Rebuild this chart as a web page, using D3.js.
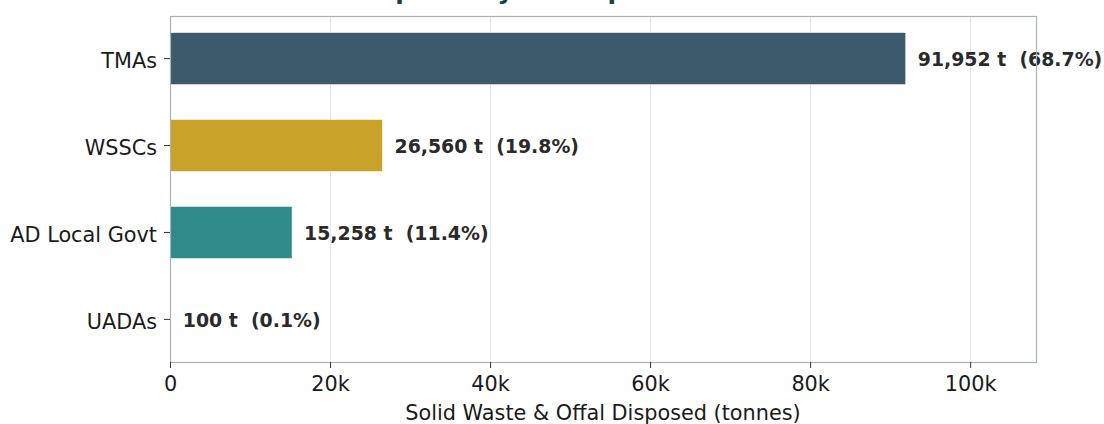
<!DOCTYPE html>
<html>
<head>
<meta charset="utf-8">
<script src="https://cdn.jsdelivr.net/npm/d3@7"></script>
<style>
  html, body { margin: 0; padding: 0; background: #ffffff; }
  svg { display: block; font-family: "DejaVu Sans", sans-serif; }
</style>
</head>
<body>
<svg id="chart" width="1104" height="424"></svg>
<script>
// Solid waste disposal by operator type
const categories = ["TMAs", "WSSCs", "AD Local Govt", "UADAs"];
const tonnes = [91952, 26560, 15258, 100];
const barColors = ["#3d5a6c", "#c9a22a", "#2e8b89", "#8c6d9e"];
const xTickValues = [0, 20000, 40000, 60000, 80000, 100000];
const xTickLabels = ["0", "20k", "40k", "60k", "80k", "100k"];
const titleText = "Solid Waste Disposal by Site Operator";
const xAxisTitle = "Solid Waste & Offal Disposed (tonnes)";

const svg = d3.select("#chart");
const W = 1104, H = 424;
const margin = { top: 16, right: 68, bottom: 62, left: 170 };
const innerW = W - margin.left - margin.right;
const innerH = H - margin.top - margin.bottom;
const tickFont = 20.8;

const total = d3.sum(tonnes);
const rows = categories.map((c, i) => ({
  cat: c,
  value: tonnes[i],
  share: tonnes[i] / total * 100,
  color: barColors[i]
}));

const x = d3.scaleLinear()
  .domain([0, d3.max(tonnes) * 1.177])
  .range([0, innerW]);

const y = d3.scaleBand()
  .domain(categories)
  .range([0, innerH])
  .paddingInner(0.4)
  .paddingOuter(0.19);

const g = svg.append("g").attr("transform", `translate(${margin.left},${margin.top})`);

// vertical grid
g.append("g")
  .selectAll("line")
  .data(xTickValues)
  .join("line")
  .attr("x1", d => Math.round(x(d)) + 0.5)
  .attr("x2", d => Math.round(x(d)) + 0.5)
  .attr("y1", 0)
  .attr("y2", innerH)
  .attr("stroke", "#e4e6e6")
  .attr("stroke-width", 1);

// bars
g.append("g")
  .selectAll("rect")
  .data(rows)
  .join("rect")
  .attr("x", 0)
  .attr("y", d => y(d.cat))
  .attr("width", d => x(d.value))
  .attr("height", y.bandwidth())
  .attr("fill", d => d.color)
  .attr("stroke", "#ffffff")
  .attr("stroke-width", 0.6);

// value labels
const fmt = d3.format(",");
g.append("g")
  .selectAll("text")
  .data(rows)
  .join("text")
  .attr("x", d => x(d.value) + 12)
  .attr("y", d => y(d.cat) + y.bandwidth() / 2)
  .attr("dy", "0.4em")
  .attr("font-size", 18.9)
  .attr("font-weight", "bold")
  .attr("fill", "#2a2a2a")
  .style("white-space", "pre")
  .text(d => `${fmt(d.value)} t  (${d.share.toFixed(1)}%)`);

// axes frame
g.append("rect")
  .attr("x", 0.5)
  .attr("y", 0.5)
  .attr("width", innerW)
  .attr("height", innerH)
  .attr("fill", "none")
  .attr("stroke", "#a9b3b0")
  .attr("stroke-width", 1.2);

// x axis
const xAxis = d3.axisBottom(x)
  .tickValues(xTickValues)
  .tickFormat((d, i) => xTickLabels[i])
  .tickSize(6)
  .tickPadding(8);
const gx = g.append("g")
  .attr("transform", `translate(0,${innerH})`)
  .call(xAxis);
gx.select(".domain").remove();
gx.selectAll(".tick line").attr("stroke", "#333").attr("stroke-width", 1);
gx.selectAll(".tick text")
  .attr("font-size", tickFont)
  .attr("font-family", "DejaVu Sans")
  .attr("fill", "#1a1a1a");

// y axis
const yAxis = d3.axisLeft(y).tickSize(6).tickPadding(7);
const gy = g.append("g").call(yAxis);
gy.select(".domain").remove();
gy.selectAll(".tick line").attr("stroke", "#333").attr("stroke-width", 1);
gy.selectAll(".tick text")
  .attr("font-size", tickFont)
  .attr("font-family", "DejaVu Sans")
  .attr("dy", "0.45em")
  .attr("fill", "#1a1a1a");

// axis title
svg.append("text")
  .attr("x", margin.left + innerW / 2)
  .attr("y", 419.5)
  .attr("text-anchor", "middle")
  .attr("font-size", tickFont)
  .attr("fill", "#1a1a1a")
  .text(xAxisTitle);

// chart title (sits above the frame)
svg.append("text")
  .attr("x", margin.left + 6)
  .attr("y", -1)
  .attr("text-anchor", "start")
  .attr("font-size", 25)
  .attr("font-weight", "bold")
  .attr("fill", "#12463e")
  .text(titleText);
</script>
</body>
</html>
